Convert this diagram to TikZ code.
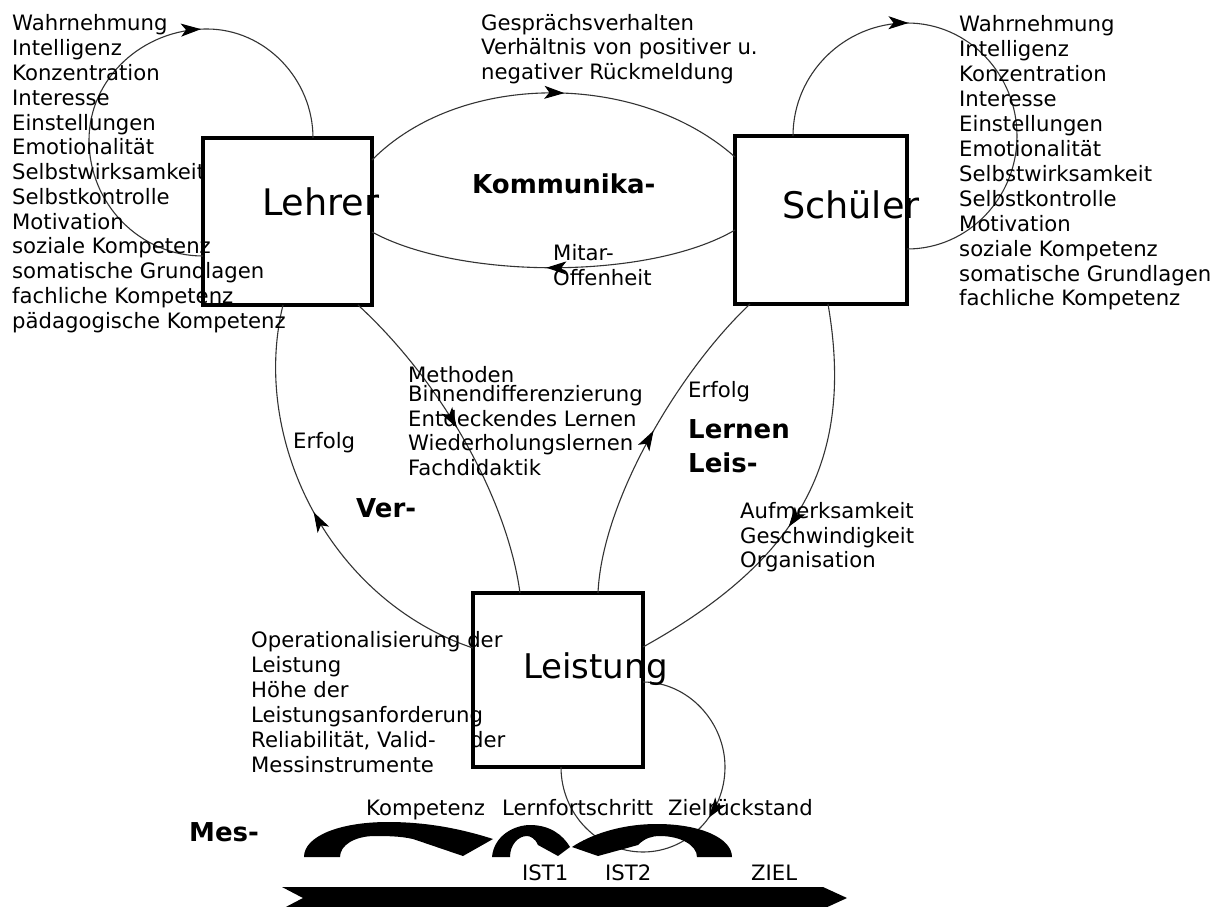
\documentclass[tikz,border=0pt]{standalone}
\usepackage{fontspec}
\setmainfont{DejaVu Sans}
\usetikzlibrary{arrows.meta,decorations.markings}
\begin{document}
\begin{tikzpicture}[x=1pt,y=-1pt,
  txt/.style={anchor=base west, inner sep=0pt, font=\fontsize{21.2}{24.75}\selectfont},
  big/.style={anchor=base west, inner sep=0pt, font=\fontsize{36.6}{40}\selectfont},
  bld/.style={anchor=base west, inner sep=0pt, font=\bfseries\fontsize{26}{30}\selectfont},
  box/.style={draw, line width=4pt, inner sep=0pt, outer sep=0pt},
  conn/.style={line width=1.1pt, draw=black!80},
  tipat/.style={postaction={decorate}, decoration={markings, mark=at position #1 with {\arrow[black]{Stealth[length=20pt,width=13pt,inset=5pt]}}}}]
\fill[white] (0,0) rectangle (1211,907);
\useasboundingbox (0,0) rectangle (1211,907);

% boxes
\node[box, minimum width=169pt, minimum height=167pt] (lehrer) at (287.5,221.5) {};
\node[box, minimum width=172pt, minimum height=168pt] (schueler) at (821,220) {};
\node[box, minimum width=170pt, minimum height=174pt] (leistung) at (558,680) {};

% self loops
\draw[conn, tipat=0.67] ([yshift=-118pt]lehrer.north west) .. controls (140,256) and (89,204) .. (89,140)
  .. controls (89,79) and (142,29) .. (207,29) .. controls (265,29) and (313,79) .. ([xshift=110pt]lehrer.north west);
\draw[conn, tipat=0.34] ([xshift=58pt]schueler.north west) .. controls (793,74) and (844,23) .. (907,23)
  .. controls (968,23) and (1017,74) .. (1017,136) .. controls (1017,198) and (968,249) .. ([yshift=-113pt]schueler.north east);
\draw[conn, tipat=0.47] ([yshift=-89pt]leistung.north east) .. controls (688,682) and (725,722) .. (725,767)
  .. controls (725,814) and (688,852) .. (643,852) .. controls (598,852) and (561,814) .. ([xshift=88pt]leistung.south west);

% connectors between boxes
\draw[conn, tipat=0.53] ([yshift=-22pt]lehrer.north east) .. controls (460,71) and (638,71) .. ([yshift=-21pt]schueler.north west);
\draw[conn, tipat=0.52] ([yshift=-94pt]schueler.north west) .. controls (650,280) and (460,280) .. ([yshift=-94pt]lehrer.north east);
\draw[conn, tipat=0.5] ([yshift=-55pt]leistung.north west) .. controls (330,600) and (250,440) .. ([xshift=80pt]lehrer.south west);
\draw[conn, tipat=0.47] ([xshift=155pt]lehrer.south west) .. controls (445,385) and (508,503) .. ([xshift=47pt]leistung.north west);
\draw[conn, tipat=0.52] ([xshift=125pt]leistung.north west) .. controls (602,500) and (680,370) .. ([xshift=15pt]schueler.south west);
\draw[conn, tipat=0.55] ([xshift=93pt]schueler.south west) .. controls (855,460) and (800,560) .. ([yshift=-54pt]leistung.north east);

% box labels
\node[big] (tl) at (262,215) {Lehrer};
\node[big] (ts) at (782,218) {Schüler};
\node[big, font=\fontsize{34}{38}\selectfont] (tg) at (523,678) {Leistung};

% left list
\foreach \t [count=\i] in {Wahrnehmung,Intelligenz,Konzentration,Interesse,Einstellungen,Emotionalität,Selbstwirksamkeit,Selbstkontrolle,Motivation,soziale Kompetenz,somatische Grundlagen,fachliche Kompetenz,pädagogische Kompetenz}
  \node[txt] (la\i) at (12,{31+24.75*(\i-1)}) {\t};
% right list
\foreach \t [count=\i] in {Wahrnehmung,Intelligenz,Konzentration,Interesse,Einstellungen,Emotionalität,Selbstwirksamkeit,Selbstkontrolle,Motivation,soziale Kompetenz,somatische Grundlagen,fachliche Kompetenz}
  \node[txt] (ra\i) at (959,{32+24.9*(\i-1)}) {\t};

% top text
\node[txt] (g1) at (481,30.5) {Gesprächsverhalten};
\node[txt] (g2) at (481,55) {Verhältnis von positiver u.};
\node[txt] (g3) at (481,79.5) {negativer Rückmeldung};

\node[bld] (komm) at (472,193) {Kommunika-};
\node[txt] (mit) at (553,260) {Mitar-};
\node[txt] (off) at (553,285) {Offenheit};

\node[txt] (erf1) at (293,448) {Erfolg};
\node[bld] (ver) at (356,517) {Ver-};

\node[txt] (m1) at (408,382) {Methoden};
\node[txt] (m2) at (408,401) {Binnendifferenzierung};
\node[txt] (m3) at (408,426) {Entdeckendes Lernen};
\node[txt] (m4) at (408,450) {Wiederholungslernen};
\node[txt] (m5) at (408,475) {Fachdidaktik};

\node[txt] (erf2) at (688,397) {Erfolg};
\node[bld] (lern) at (688,438) {Lernen};
\node[bld] (leis) at (688,472) {Leis-};

\node[txt] (a1) at (740,518) {Aufmerksamkeit};
\node[txt] (a2) at (740,543) {Geschwindigkeit};
\node[txt] (a3) at (740,567) {Organisation};

\node[txt] (o1) at (251,647) {Operationalisierung der};
\node[txt] (o2) at (251,672) {Leistung};
\node[txt] (o3) at (251,697) {Höhe der};
\node[txt] (o4) at (251,722) {Leistungsanforderung};
\node[txt] (o5) at (251,747) {Reliabilität, Valid-};
\node[txt] (o5b) at (470,747) {der};
\node[txt] (o6) at (251,772) {Messinstrumente};

% bottom
\node[bld] (mes) at (189,841) {Mes-};
\node[txt] (komp) at (366,815) {Kompetenz};
\node[txt] (lfs) at (502,815) {Lernfortschritt};
\node[txt] (zrs) at (668,815) {Zielrückstand};
\node[txt] (ist1) at (522,880) {IST1};
\node[txt] (ist2) at (605,880) {IST2};
\node[txt] (ziel) at (751,880) {ZIEL};

% curved block arrows
\fill[black] (304,857) .. controls (304,836) and (340,822) .. (388,822) .. controls (430,822) and (465,830) .. (493,839)
  -- (463,856) -- (413,839) .. controls (400,836) and (385,836) .. (375,836) .. controls (355,836) and (340,845) .. (340,857) -- cycle;
\fill[black] (492,857) .. controls (494,835) and (515,825) .. (530,825) .. controls (550,825) and (563,835) .. (570,847)
  -- (558,856) -- (538,845) .. controls (535,838) and (530,836) .. (527,836) .. controls (518,836) and (510,845) .. (510,857) -- cycle;
\fill[black] (732,857) .. controls (732,838) and (700,824) .. (657,824) .. controls (620,824) and (590,835) .. (572,847)
  -- (598,856) -- (638,845) .. controls (645,838) and (652,836) .. (660,836) .. controls (680,836) and (697,845) .. (697,857) -- cycle;
% long arrow
\fill[black] (282,887) -- (823,887) -- (847,898) -- (823,909) -- (282,909) -- (303,898) -- cycle;
\end{tikzpicture}
\end{document}
